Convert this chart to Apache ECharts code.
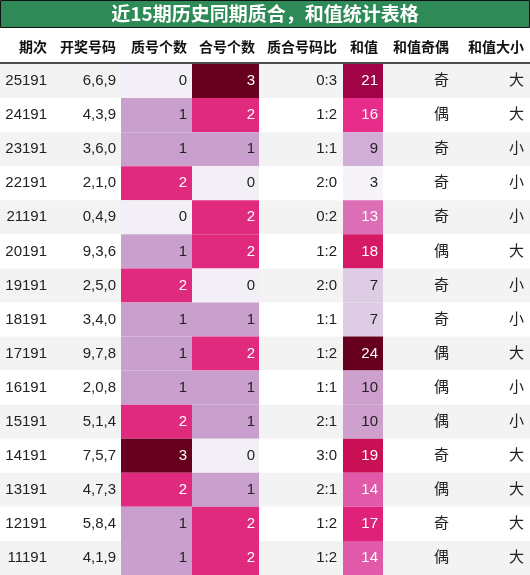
<!DOCTYPE html><html><head><meta charset="utf-8">
<script src="https://cdn.jsdelivr.net/npm/echarts@6/dist/echarts.min.js"></script>
<style>html,body{margin:0;padding:0;background:#fff}#c{width:530px;height:575px}</style></head>
<body><div id="c"></div><script>
const title = '近15期历史同期质合，和值统计表格';
const headers = ['期次','开奖号码','质号个数','合号个数','质合号码比','和值','和值奇偶','和值大小'];
const periods = ['25191','24191','23191','22191','21191','20191','19191','18191','17191','16191','15191','14191','13191','12191','11191'];
const numbers = ['6,6,9','4,3,9','3,6,0','2,1,0','0,4,9','9,3,6','2,5,0','3,4,0','9,7,8','2,0,8','5,1,4','7,5,7','4,7,3','5,8,4','4,1,9'];
const primeCount = [0,1,1,2,0,1,2,1,1,1,2,3,2,1,1];
const compCount = [3,2,1,0,2,2,0,1,2,1,1,0,1,2,2];
const ratio = ['0:3','1:2','1:1','2:0','0:2','1:2','2:0','1:1','1:2','1:1','2:1','3:0','2:1','1:2','1:2'];
const sums = [21,16,9,3,13,18,7,7,24,10,10,19,14,17,14];
const parity = ['奇','偶','奇','奇','奇','偶','奇','奇','偶','偶','偶','奇','偶','奇','偶'];
const size = ['大','大','小','小','小','大','小','小','大','小','小','大','大','大','大'];

const edges = [0,52,121,192,259,343,383,460,530];
const textX = [47,116,187,255,337,378,449,524];
const countColors = ['#f3eff6','#c9a0cd','#df2a7e','#67001f'];
const purd = ['#f7f4f9','#e7e1ef','#d4b9da','#c994c7','#df65b0','#e7298a','#ce1256','#980043','#67001f'];
function sumColor(v){
  const t = Math.max(0,Math.min(1,(v-3)/21))*(purd.length-1);
  const i=Math.min(Math.floor(t),purd.length-2), f=t-i;
  const a=purd[i], b=purd[i+1];
  const h=(s,k)=>parseInt(s.substr(1+2*k,2),16);
  return 'rgb('+[0,1,2].map(k=>Math.round(h(a,k)+(h(b,k)-h(a,k))*f)).join(',')+')';
}
const data=[];
periods.forEach((p,r)=>{
  const vals=[p,numbers[r],primeCount[r],compCount[r],ratio[r],sums[r],parity[r],size[r]];
  vals.forEach((v,c)=>{
    let fill=null, tc='#222';
    if(c===2||c===3){fill=countColors[v]; if(v>=2) tc='#fff';}
    if(c===5){fill=sumColor(v); if(v>=13) tc='#fff';}
    data.push({value:[c,r,String(v)],fill:fill,tc:tc});
  });
});
const chart=echarts.init(document.getElementById('c'));
chart.setOption({
  animation:false,
  grid:{left:0,right:0,top:64,bottom:0},
  xAxis:{type:'value',min:0,max:530,show:false},
  yAxis:{type:'value',min:0,max:15,inverse:true,show:false},
  graphic:[
    {type:'rect',shape:{x:0.5,y:0.5,width:529,height:27},style:{fill:'#2e8b57',stroke:'#111',lineWidth:1}},
    {type:'text',x:265,y:14,style:{text:title,fill:'#fff',font:'bold 19px "Noto Sans CJK SC"',align:'center',verticalAlign:'middle'}},
    ...headers.map((h,i)=>({type:'text',x:textX[i],y:47,style:{text:h,fill:'#111',font:'bold 14px "Noto Sans CJK SC"',align:'right',verticalAlign:'middle'}})),
    {type:'line',shape:{x1:0,y1:63,x2:530,y2:63},style:{stroke:'#111',lineWidth:1.5}}
  ],
  series:[{
    type:'custom',
    data:data,
    renderItem:function(params,api){
      const d=data[params.dataIndex];
      const c=api.value(0), r=api.value(1);
      const p0=api.coord([edges[c],r]), p1=api.coord([edges[c+1],r+1]);
      const bg = r%2===0?'#f3f3f3':'#ffffff';
      return {type:'group',children:[
        {type:'rect',shape:{x:p0[0],y:p0[1],width:p1[0]-p0[0],height:p1[1]-p0[1]},style:{fill:d.fill||bg}},
        {type:'text',x:p0[0]+(textX[c]-edges[c]),y:(p0[1]+p1[1])/2,style:{text:d.value[2],fill:d.tc,font:'15px "Liberation Sans","Noto Sans CJK SC"',align:'right',verticalAlign:'middle'}}
      ]};
    }
  }]
});
</script></body></html>
